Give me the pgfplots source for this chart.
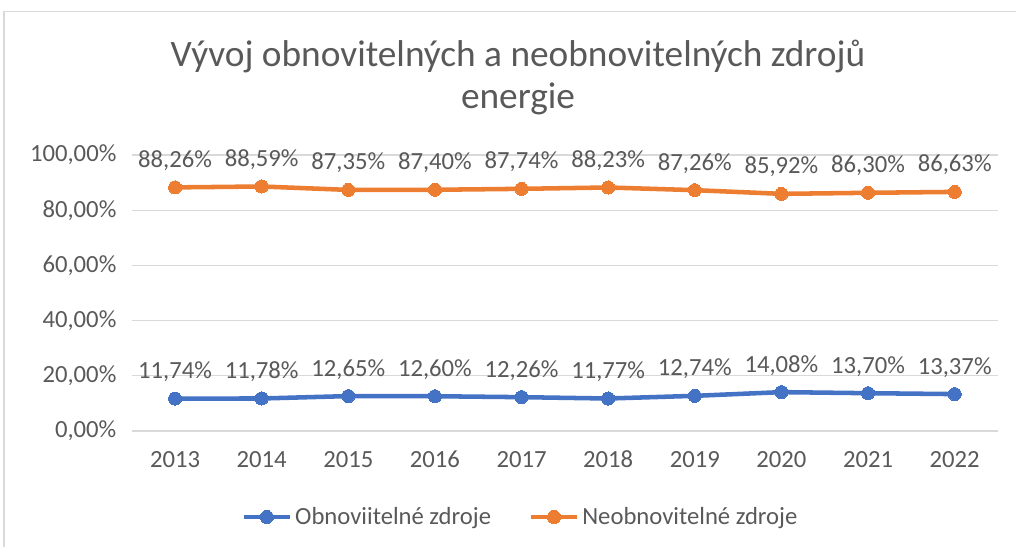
\documentclass[border=0pt]{standalone}
\usepackage{fontspec}
\setmainfont{Carlito}
\usepackage{pgfplots}
\pgfplotsset{compat=1.18}
\definecolor{txt}{HTML}{595959}
\definecolor{gridc}{HTML}{D9D9D9}
\definecolor{blueS}{HTML}{4472C4}
\definecolor{orangeS}{HTML}{ED7D31}
\begin{document}
\begin{tikzpicture}
\useasboundingbox (0,0) rectangle (762pt,409.5pt);
\draw[gridc, line width=1pt] (3pt,-20pt) -- (3pt,401pt) -- (800pt,401pt);
\node[align=center, font=\fontsize{28}{31.5}\selectfont, text=txt] at (388.5pt,351.5pt) {Vývoj obnovitelných a neobnovitelných zdrojů\\energie};
\begin{axis}[
  at={(98.8pt,86.25pt)}, anchor=south west,
  scale only axis, width=649.7pt, height=207pt,
  xmin=-0.5, xmax=9.5, ymin=0, ymax=100,
  xtick={0,...,9},
  xticklabels={2013,2014,2015,2016,2017,2018,2019,2020,2021,2022},
  ytick={0,20,40,60,80,100},
  yticklabel={\pgfmathprintnumber[fixed,fixed zerofill,precision=2,use comma]{\tick}\%},
  /pgf/number format/assume math mode=true,
  ticklabel style={font=\fontsize{18.5}{20}\selectfont, text=txt},
  yticklabel style={xshift=-8pt},
  xticklabel style={yshift=-12pt, text height=12pt, text depth=2pt},
  major tick length=0pt,
  axis line style={draw=none},
  ymajorgrids, major grid style={gridc, line width=0.8pt},
  clip=false,
  nodes near coords={\pgfmathprintnumber[fixed,fixed zerofill,precision=2,use comma]{\pgfplotspointmeta}\%},
  every node near coord/.append style={font=\fontsize{18.5}{20}\selectfont, text=txt, anchor=center, yshift=20pt, text height=12pt, text depth=2pt},
  legend columns=2,
  legend style={at={(0.449,-0.3116)}, anchor=center, draw=none, fill=none,
    font=\fontsize{18.5}{20}\selectfont, text=txt, inner xsep=0pt,
    /tikz/every even column/.append style={column sep=26pt}},
  legend image code/.code={
    \draw[#1, mark=none] (0pt,0pt) -- (35pt,0pt);
    \draw[#1, only marks] plot coordinates {(17.5pt,0pt)};
  },
]
\addplot[blueS, line width=3.4pt, mark=*, mark size=4.9pt, mark options={solid, fill=blueS, draw=blueS, line width=0pt}]
  coordinates {(0,11.74) (1,11.78) (2,12.65) (3,12.60) (4,12.26) (5,11.77) (6,12.74) (7,14.08) (8,13.70) (9,13.37)};
\addlegendentry{Obnoviitelné zdroje}
\addplot[orangeS, line width=3.4pt, mark=*, mark size=4.9pt, mark options={solid, fill=orangeS, draw=orangeS, line width=0pt}]
  coordinates {(0,88.26) (1,88.59) (2,87.35) (3,87.40) (4,87.74) (5,88.23) (6,87.26) (7,85.92) (8,86.30) (9,86.63)};
\addlegendentry{Neobnovitelné zdroje}
\end{axis}
\end{tikzpicture}
\end{document}
